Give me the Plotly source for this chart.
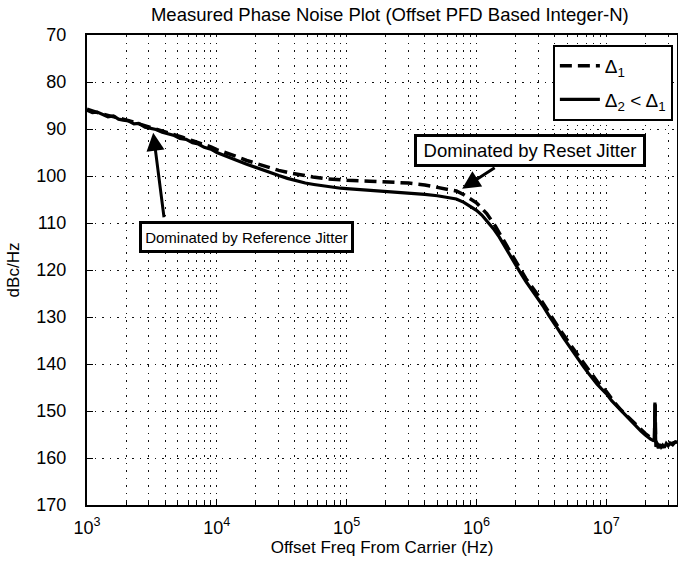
import plotly.graph_objects as go

# ---- data ----
freq_d2 = [1000, 1100, 1200, 1300, 1450, 1600, 1750, 1900, 2100, 2300, 2500, 2800, 3100, 3400,
           3800, 4200, 4700, 5200, 5800, 6500, 7200, 8000, 9000, 10000, 11500, 13000, 15000,
           17000, 20000, 23000, 26000, 30000, 35000, 41000, 48000, 56000, 65000, 77000,
           90000, 100000, 130000, 170000, 220000, 300000, 400000, 500000, 600000, 700000,
           800000, 900000, 1000000, 1100000, 1200000, 1350000, 1500000, 1700000, 1900000,
           2150000, 2400000, 2700000, 3000000, 3300000, 3600000, 4000000, 4300000, 4700000,
           5200000, 5700000, 6200000, 6700000, 7300000, 7900000, 8500000, 9200000, 10000000,
           11000000, 12000000, 13000000, 14000000, 15000000, 16000000, 17000000, 18500000,
           20000000, 21000000, 22000000, 23000000, 23500000, 23700000, 23900000, 24100000,
           24600000, 25200000, 25800000, 26500000, 27200000, 28000000, 29000000, 30000000,
           31000000, 32500000, 34000000, 35000000]
val_d2 = [86.0, 86.5, 86.4, 86.9, 87.4, 87.2, 87.9, 88.1, 88.3, 88.9, 88.8, 89.6, 89.9, 90.1,
          90.7, 91.1, 91.4, 92.0, 92.2, 92.9, 93.2, 93.9, 94.3, 95.0, 95.6, 96.2, 96.9,
          97.5, 98.2, 98.9, 99.4, 99.9, 100.5, 101.0, 101.5, 101.8, 102.1, 102.4,
          102.6, 102.7, 102.9, 103.1, 103.3, 103.6, 103.9, 104.2, 104.5, 104.9,
          105.6, 106.4, 107.3, 108.3, 109.5, 111.2, 113.0, 115.6, 117.8,
          120.3, 122.4, 124.4, 126.1, 127.9, 129.6, 131.4, 132.8, 134.5,
          136.3, 137.9, 139.3, 140.6, 142.0, 143.3, 144.3, 145.3, 146.3,
          147.8, 148.9, 150.0, 150.9, 151.8, 152.5, 153.3, 154.3,
          155.1, 155.6, 156.0, 156.3, 156.2, 148.2, 156.5, 157.6,
          157.2, 157.9, 157.1, 157.7, 157.3, 157.8, 156.9, 157.4,
          156.8, 157.2, 156.6, 156.7]

freq_d1 = [1000, 1150, 1300, 1500, 1700, 1900, 2200, 2600, 3000, 3500, 4000, 4700, 5500,
           6500, 7500, 9000, 10000, 12000, 14000, 17000, 20000, 24000, 30000, 36000, 45000,
           55000, 70000, 85000, 100000, 150000, 200000, 300000, 400000, 500000, 600000,
           700000, 800000, 900000, 1000000, 1100000, 1200000, 1400000, 1600000, 1900000,
           2400000, 3000000, 3600000, 4300000, 5200000, 6200000, 7300000, 8500000, 10000000,
           11500000, 13000000, 15000000, 17000000, 20000000, 22000000, 23500000, 23800000,
           24000000, 25000000, 27000000, 30000000, 35000000]
val_d1 = [85.8, 86.4, 86.8, 87.2, 87.5, 87.9, 88.4, 89.0, 89.5, 90.0, 90.6, 91.1, 91.8,
          92.5, 93.0, 93.8, 94.4, 95.1, 95.8, 96.7, 97.3, 98.0, 98.8, 99.3, 99.8,
          100.2, 100.6, 100.8, 100.9, 101.1, 101.2, 101.5, 101.9, 102.4, 102.9,
          103.2, 104.0, 104.8, 105.7, 106.9, 108.0, 110.7, 113.5, 117.2,
          121.8, 125.5, 129.0, 132.3, 135.6, 138.6, 141.4, 143.7, 145.8,
          148.1, 149.8, 151.5, 153.0, 154.8, 155.7, 156.1, 148.5,
          156.4, 157.2, 157.6, 157.2, 156.5]

y_ticks = [70, 80, 90, 100, 110, 120, 130, 140, 150, 160, 170]
x_ticks = [1e3, 1e4, 1e5, 1e6, 1e7]
x_ticktext = ["10<sup>3</sup>", "10<sup>4</sup>", "10<sup>5</sup>", "10<sup>6</sup>", "10<sup>7</sup>"]
x_minor = [m * 10 ** e for e in range(3, 8) for m in range(2, 10)]

FONT = "Liberation Sans, Arial, Helvetica, sans-serif"
DOT = "1.5px,6px"
GRIDC = "#111"

fig = go.Figure()
fig.add_trace(go.Scatter(x=freq_d1, y=val_d1, mode="lines", name="Δ<sub>1</sub>", legendgroup="a",
                         line=dict(color="black", width=3.5, dash="12px,6px")))
fig.add_trace(go.Scatter(x=freq_d2, y=val_d2, mode="lines", name="Δ<sub>2</sub> &lt; Δ<sub>1</sub>",
                         legendgroup="b", line=dict(color="black", width=3.2)))

fig.update_xaxes(type="log", range=[3, 7.545], tickvals=x_ticks, ticktext=x_ticktext,
                 ticks="inside", ticklen=6, tickcolor="black", automargin=False,
                 showline=True, linecolor="black", linewidth=2, mirror=True,
                 showgrid=True, gridcolor=GRIDC, gridwidth=1, griddash=DOT,
                 minor=dict(tickvals=x_minor, ticks="inside", ticklen=3, tickcolor="black",
                            showgrid=True, gridcolor=GRIDC, gridwidth=1, griddash=DOT),
                 tickfont=dict(size=18, color="black"), zeroline=False, ticklabelstandoff=5,
                 title=dict(text="Offset Freq From Carrier (Hz)", font=dict(size=17, color="black"),
                            standoff=5))
fig.update_yaxes(range=[170, 70], tickvals=y_ticks, ticks="inside", ticklen=6, tickcolor="black",
                 showline=True, linecolor="black", linewidth=2, mirror=True, automargin=False,
                 showgrid=True, gridcolor=GRIDC, gridwidth=1, griddash=DOT,
                 tickfont=dict(size=18, color="black"), zeroline=False, ticklabelstandoff=15,
                 title=dict(text="dBc/Hz", font=dict(size=17, color="black"), standoff=12))

fig.add_annotation(xref="paper", yref="paper", x=0.270, y=0.570, xanchor="center", yanchor="middle",
                   text="Dominated by Reference Jitter", width=207, height=24,
                   showarrow=False, font=dict(size=15, color="black", family=FONT),
                   bgcolor="white", bordercolor="black", borderwidth=3, borderpad=1)
fig.add_annotation(xref="paper", yref="paper", x=0.751, y=0.754, xanchor="center", yanchor="middle",
                   text="Dominated by Reset Jitter", width=224, height=25,
                   showarrow=False, font=dict(size=18.5, color="black", family=FONT),
                   bgcolor="white", bordercolor="black", borderwidth=3, borderpad=1)
# arrows (tips on the curves)
fig.add_annotation(x=3.51, y=90.8, xref="x", yref="y", text="", showarrow=True,
                   axref="pixel", ayref="pixel", ax=11, ay=86,
                   arrowhead=2, arrowsize=1.2, arrowwidth=3, arrowcolor="black")
fig.add_annotation(x=5.89, y=102.7, xref="x", yref="y", text="", showarrow=True,
                   axref="pixel", ayref="pixel", ax=34, ay=-22,
                   arrowhead=2, arrowsize=1.2, arrowwidth=3, arrowcolor="black")

fig.update_layout(
    width=678, height=565,
    margin=dict(l=87, r=1, t=35, b=60, autoexpand=False),
    paper_bgcolor="white", plot_bgcolor="white",
    font=dict(family=FONT, color="black"),
    title=dict(text="Measured Phase Noise Plot (Offset PFD Based Integer-N)",
               font=dict(size=18.5, color="black"), x=0.575, xanchor="center",
               y=1 - 15 / 565, yanchor="middle", yref="container"),
    showlegend=True,
    legend=dict(x=0.993, y=0.979, xanchor="right", yanchor="top",
                bgcolor="white", bordercolor="black", borderwidth=2,
                font=dict(size=19, color="black"), tracegroupgap=6, itemwidth=40),
)

fig.write_html("out.html", config={"displayModeBar": False},
               post_script="document.body.style.margin='0px';document.body.style.overflow='hidden';")
